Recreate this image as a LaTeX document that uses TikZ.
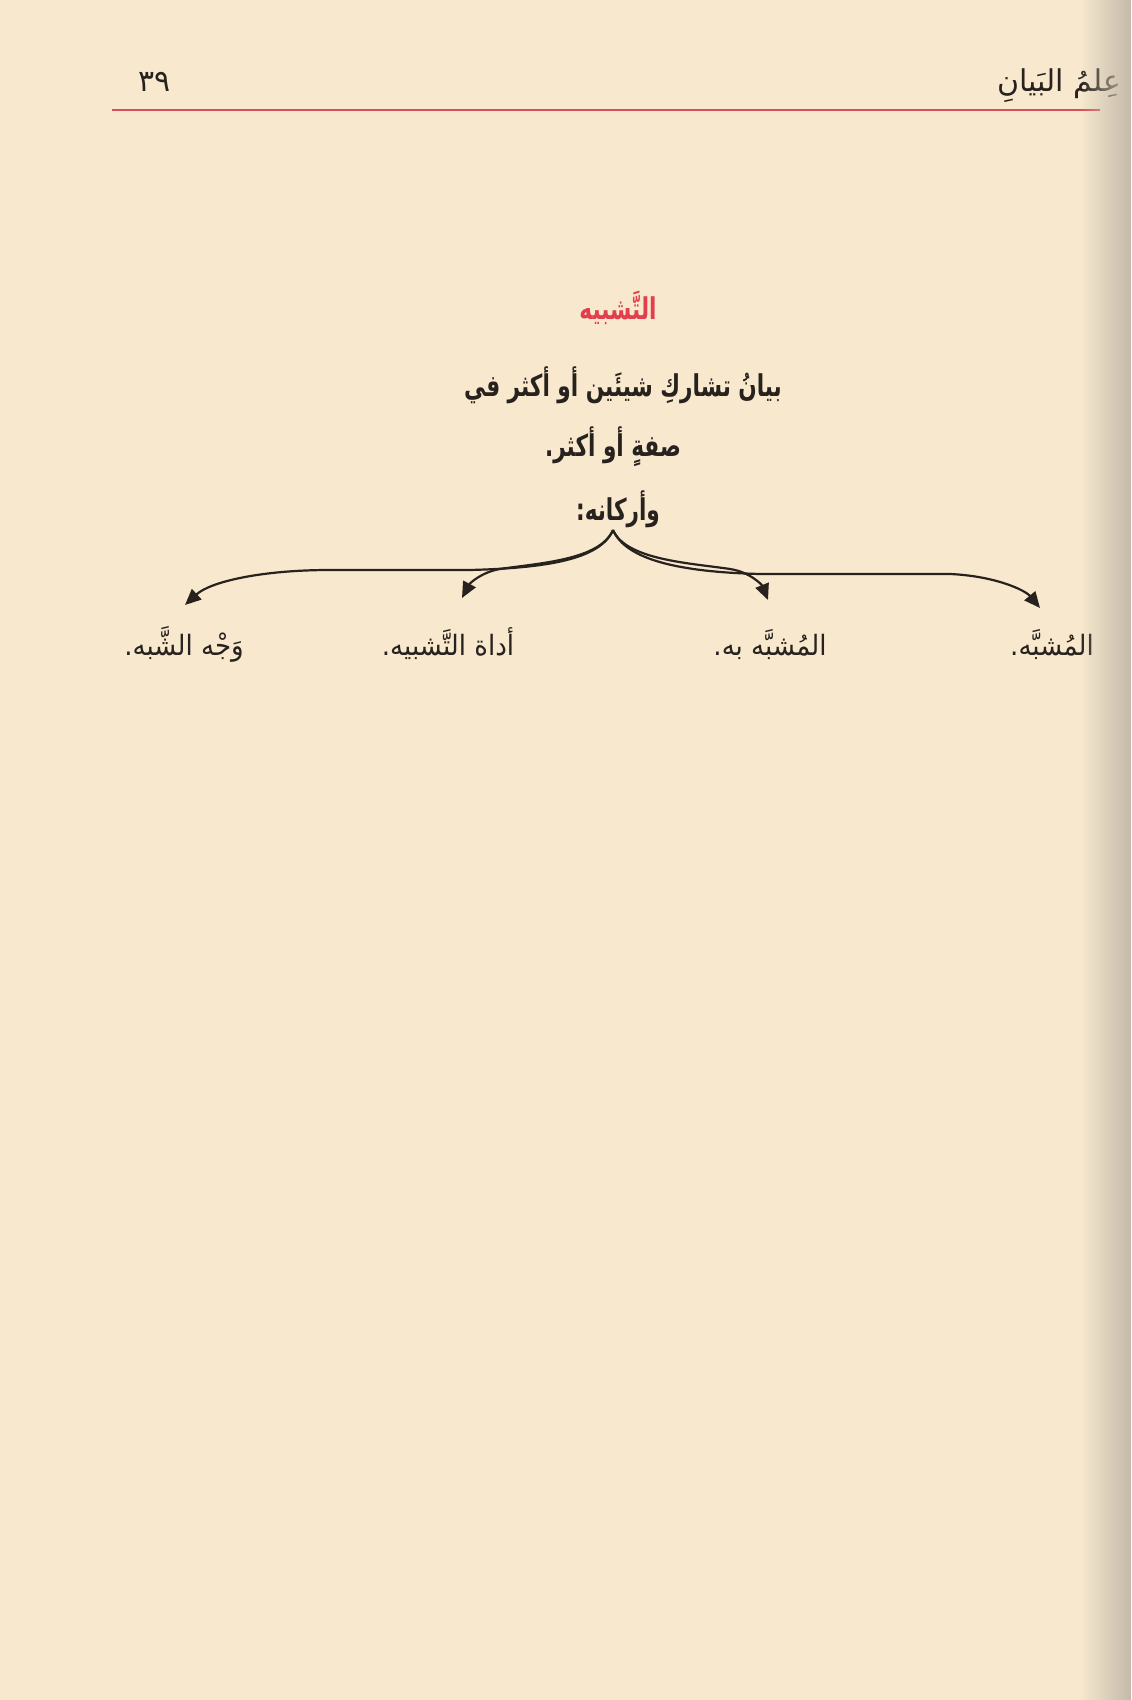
\documentclass[tikz,border=0pt]{standalone}
\usepackage{fontspec}
\usepackage{graphicx}
\TeXXeTstate=1
\newfontfamily\arabicfont[Script=Arabic]{DejaVu Sans}
\usetikzlibrary{arrows.meta,fadings}
\definecolor{paper}{RGB}{248,233,206}
\definecolor{ink}{RGB}{40,34,30}
\definecolor{rule}{RGB}{215,80,90}
\definecolor{titlered}{RGB}{226,62,78}
\definecolor{edge}{RGB}{196,186,170}
\tikzfading[name=edgefade, left color=transparent!100, right color=transparent!0]
\newcommand{\narrow}[1]{\scalebox{0.72}[1]{#1}}
\newcommand{\slim}[1]{\scalebox{0.93}[1]{#1}}
\tikzset{
  artext/.style={font=\arabicfont\fontsize{15}{18}\selectfont, text=ink, inner sep=0pt},
  boldtext/.style={font=\arabicfont\bfseries\fontsize{15}{18}\selectfont, text=ink, inner sep=0pt},
  labeltext/.style={font=\arabicfont\fontsize{14}{17}\selectfont, text=ink, inner sep=0pt},
  conn/.style={draw=ink, line width=1.1pt, -{Triangle[length=8pt,width=7pt]}}
}
\begin{document}
\begin{tikzpicture}[x=0.5pt,y=-0.5pt]
\fill[paper] (0,0) rectangle (1131,1700);
\useasboundingbox (0,0) rectangle (1131,1700);
% header
\draw[rule, line width=1.2pt] (112,110) -- (1100,110);
\node[artext, anchor=base] (pagenum) at (155,92) {٣٩};
\node[artext, anchor=base east] (header) at (1122,92) {\beginR عِلمُ البَيانِ\endR};
% title and definition
\node[boldtext, text=titlered, anchor=base] (title) at (618,320) {\narrow{\beginR التَّشبيه\endR}};
\node[boldtext, anchor=base] (def1) at (623,397) {\narrow{\beginR بيانُ تشاركِ شيئَين أو أكثر في\endR}};
\node[boldtext, anchor=base] (def2) at (613,457) {\narrow{\beginR صفةٍ أو أكثر.\endR}};
\node[boldtext, anchor=base] (pillars) at (618,520) {\narrow{\beginR وأركانه:\endR}};
% labels
\node[labeltext, anchor=base] (wajh) at (184,655) {\slim{\beginR وَجْه الشَّبه.\endR}};
\node[labeltext, anchor=base] (adat) at (448,655) {\slim{\beginR أداة التَّشبيه.\endR}};
\node[labeltext, anchor=base] (mushabbahbih) at (770,655) {\slim{\beginR المُشبَّه به.\endR}};
\node[labeltext, anchor=base] (mushabbah) at (1052,655) {\slim{\beginR المُشبَّه.\endR}};
% brace connectors
\coordinate (cusp) at (613,530);
\coordinate (tipA) at (185,605);
\coordinate (tipB) at (462,598);
\coordinate (tipC) at (768,600);
\coordinate (tipD) at (1040,608);
\draw[conn] (cusp) .. controls (600,560) and (545,568) .. (470,570) -- (330,570) .. controls (260,570) and (210,582) .. (tipA);
\draw[conn] (cusp) .. controls (600,560) and (540,563) .. (500,569) .. controls (482,572) and (470,583) .. (tipB);
\draw[conn] (cusp) .. controls (626,560) and (690,563) .. (730,569) .. controls (750,572) and (762,585) .. (tipC);
\draw[conn] (cusp) .. controls (626,560) and (680,572) .. (760,574) -- (950,574) .. controls (995,576) and (1025,590) .. (tipD);
% page edge shadow
\fill[edge, path fading=edgefade] (1080,0) rectangle (1131,1700);
\end{tikzpicture}
\end{document}
